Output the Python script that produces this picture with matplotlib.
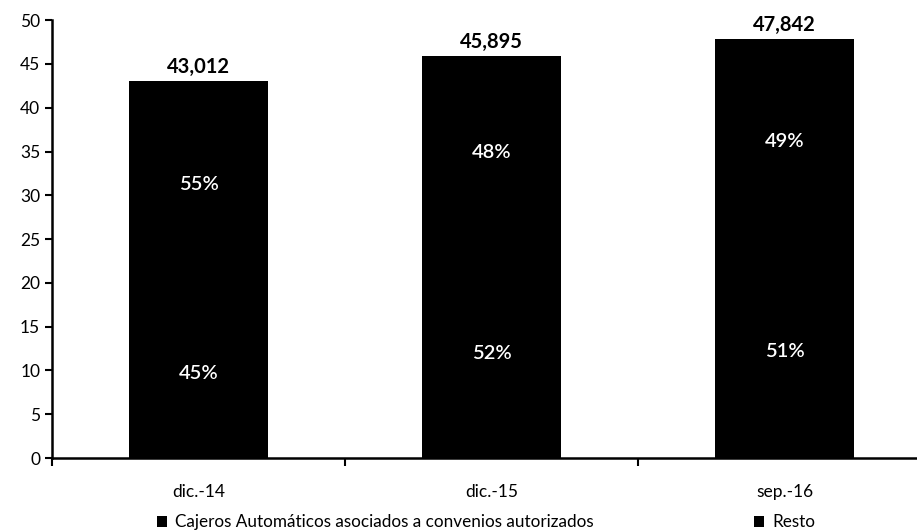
import numpy as np
import matplotlib
matplotlib.use("Agg")
import matplotlib.pyplot as plt
from matplotlib.ticker import FixedLocator

plt.rcParams['font.family'] = ['Lato', 'DejaVu Sans']

# data (thousands of ATMs)
periods = ["dic.-14", "dic.-15", "sep.-16"]
totals = [43.012, 45.895, 47.842]
total_labels = ["43,012", "45,895", "47,842"]
share_convenios = [0.45, 0.52, 0.51]
share_resto = [0.55, 0.48, 0.49]
series_names = ["Cajeros Automáticos asociados a convenios autorizados", "Resto"]

totals = np.array(totals)
convenios = totals * np.array(share_convenios)
resto = totals * np.array(share_resto)

fig = plt.figure(figsize=(9.17, 5.32), dpi=100)
# axis runs past the right edge of the image, as in the original
ax = fig.add_axes([0.0567, 0.139, 0.9586, 0.823])

x = np.arange(len(periods))
w = 0.474
b1 = ax.bar(x, convenios, w, color="black", label=series_names[0])
b2 = ax.bar(x, resto, w, bottom=convenios, color="black", label=series_names[1])

for i in range(len(x)):
    ax.text(x[i], convenios[i] / 2, f"{share_convenios[i]*100:.0f}%",
            ha="center", va="center", color="white", fontsize=14.5,
            fontweight="semibold")
    ax.text(x[i], convenios[i] + resto[i] / 2, f"{share_resto[i]*100:.0f}%",
            ha="center", va="center", color="white", fontsize=14.5,
            fontweight="semibold")
    ax.text(x[i], totals[i] + 0.5, total_labels[i], ha="center", va="bottom",
            fontsize=14.5, fontweight="bold")

ax.set_xlim(-0.5, 2.5)
ax.set_ylim(0, 50)
ax.set_yticks(np.arange(0, 51, 5))
ax.set_xticks(x)
ax.set_xticklabels(periods, fontsize=12.5)
ax.xaxis.set_minor_locator(FixedLocator([-0.5, 0.5, 1.5]))
ax.tick_params(axis="x", which="major", length=0, pad=19)
ax.tick_params(axis="x", which="minor", length=6, width=1.5, direction="out")
ax.tick_params(axis="y", length=5, width=1.5, labelsize=12.5, direction="out")

for s in ["top", "right"]:
    ax.spines[s].set_visible(False)
ax.spines["left"].set_linewidth(1.8)
ax.spines["bottom"].set_linewidth(1.8)

fig.legend(handles=[b1, b2], labels=series_names, loc="lower left",
           bbox_to_anchor=(0.169, 0.0), borderaxespad=0.0, borderpad=0.1,
           ncol=2, frameon=False, fontsize=12.3, handlelength=0.6,
           handleheight=0.6, handletextpad=0.47, columnspacing=9.4)

fig.savefig("out.png", dpi=100)
